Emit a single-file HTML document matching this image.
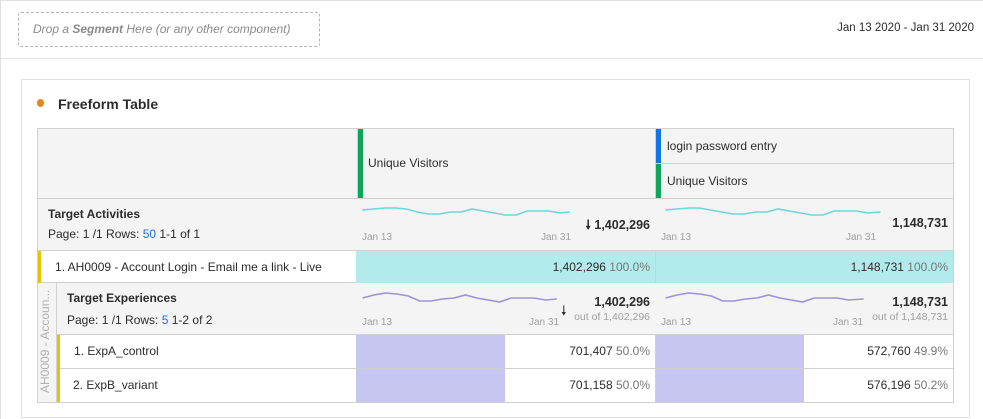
<!DOCTYPE html>
<html><head><meta charset="utf-8"><style>
*{margin:0;padding:0;box-sizing:border-box}
body{width:983px;height:419px;background:#fff;font-family:"Liberation Sans",sans-serif;color:#2c2c2c;position:relative;overflow:hidden}
.a{position:absolute}
.t{font-size:12px;white-space:nowrap}
.r{text-align:right;width:200px}
.g{color:#a0a0a0;font-size:10px}
.b{font-weight:bold}
polyline{vector-effect:non-scaling-stroke}
</style></head><body>
<div class="a" style="left:0;top:0;width:983px;height:1px;background:#e1e1e1"></div>
<div class="a" style="left:0;top:0;width:1px;height:419px;background:#e1e1e1"></div>
<div class="a" style="left:18px;top:12px;width:302px;height:35px;border:1px dashed #b3b3b3;border-radius:3px"></div>
<div class="a t" style="left:33px;top:22px;color:#8a8a8a;font-style:italic;font-size:12px">Drop a <b>Segment</b> Here (or any other component)</div>
<div class="a t r" style="left:774px;top:22px;font-size:11.5px">Jan 13 2020 - Jan 31 2020</div>
<div class="a" style="left:0;top:58px;width:983px;height:1px;background:#e1e1e1"></div>
<div class="a" style="left:21px;top:79px;width:949px;height:339px;border:1px solid #e1e1e1"></div>
<div class="a" style="left:37px;top:99px;width:7px;height:8px;border-radius:50%;background:#e68619"></div>
<div class="a t b" style="left:58px;top:96px;font-size:14px">Freeform Table</div>

<div class="a" style="left:37px;top:128px;width:917px;height:275px;border:1px solid #d0d0d0;background:#f4f4f4"></div>
<div class="a" style="left:37px;top:198px;width:917px;height:1px;background:#d0d0d0"></div>
<div class="a" style="left:655px;top:163px;width:299px;height:1px;background:#d0d0d0"></div>
<div class="a" style="left:357px;top:128px;width:1px;height:70px;background:#d0d0d0"></div>
<div class="a" style="left:655px;top:128px;width:1px;height:70px;background:#d0d0d0"></div>
<div class="a" style="left:358px;top:129px;width:5px;height:69px;background:#12a35b"></div>
<div class="a" style="left:656px;top:129px;width:5px;height:34px;background:#1473e6"></div>
<div class="a" style="left:656px;top:164px;width:5px;height:34px;background:#12a35b"></div>
<div class="a t" style="left:368px;top:156px">Unique Visitors</div>
<div class="a t" style="left:667px;top:139px">login password entry</div>
<div class="a t" style="left:667px;top:174px">Unique Visitors</div>

<div class="a t b" style="left:48px;top:207px">Target Activities</div>
<div class="a t" style="left:48px;top:227px">Page: 1 /1 Rows: <span style="color:#1473e6">50</span> 1-1 of 1</div>
<svg class="a" style="left:360px;top:205px" width="600" height="140">
<g fill="none" stroke="#6fd6d8" stroke-width="1.6">
<polyline transform="scale(1.22,1)" points="2,5 11,4 20,3 29,3 38,4 47,7 56,9 65,9 74,7 83,7 92,4 101,6 110,8 119,10 128,10 137,6 146,6 155,6 164,8 172,7"/>
<polyline transform="translate(303,0) scale(1.25,1)" points="2,5 11,4 20,3 29,3 38,5 47,7 56,9 65,9 74,7 83,7 92,4 101,6 110,8 119,10 128,10 137,6 146,6 155,6 164,8 174,7"/>
</g>
<g fill="none" stroke="#9b93d9" stroke-width="1.6">
<polyline transform="scale(1.27,1)" points="2,93 11,90 20,88 29,89 38,91 47,96 56,96 65,94 74,93 83,90 92,93 101,95 110,97 119,93 128,93 137,93 146,95 155,94"/>
<polyline transform="translate(303,0) scale(1.27,1)" points="2,93 11,90 20,88 29,89 38,91 47,96 56,96 65,94 74,93 83,90 92,93 101,95 110,97 119,93 128,93 137,93 146,95 158,94"/>
</g>
</svg>
<div class="a g" style="left:362px;top:232px">Jan 13</div>
<div class="a g" style="left:541px;top:232px">Jan 31</div>
<div class="a g" style="left:661px;top:232px">Jan 13</div>
<div class="a g" style="left:846px;top:232px">Jan 31</div>
<div class="a t b r" style="left:450px;top:216px;font-size:12.5px">🠗 1,402,296</div>
<div class="a t b r" style="left:748px;top:216px;font-size:12.5px">1,148,731</div>

<div class="a" style="left:38px;top:250px;width:915px;height:33px;background:#fff;border-top:1px solid #d0d0d0;border-bottom:1px solid #d0d0d0"></div>
<div class="a" style="left:38px;top:251px;width:3px;height:32px;background:#e5c400"></div>
<div class="a" style="left:356px;top:251px;width:597px;height:32px;background:#b2ebec"></div>
<div class="a" style="left:655px;top:251px;width:1px;height:32px;background:#d0d0d0"></div>
<div class="a t" style="left:55px;top:260px">1. AH0009 - Account Login - Email me a link - Live</div>
<div class="a t r" style="left:450px;top:260px">1,402,296 <span style="color:#777">100.0%</span></div>
<div class="a t r" style="left:748px;top:260px">1,148,731 <span style="color:#777">100.0%</span></div>

<div class="a" style="left:56px;top:283px;width:1px;height:119px;background:#d0d0d0"></div>
<div class="a" style="transform:rotate(-90deg);transform-origin:center;color:#b0b0b0;font-size:12px;white-space:nowrap;text-align:center;left:-5px;top:336px;width:100px">AH0009 - Accoun...</div>
<div class="a t b" style="left:67px;top:291px">Target Experiences</div>
<div class="a t" style="left:67px;top:313px">Page: 1 /1 Rows: <span style="color:#1473e6">5</span> 1-2 of 2</div>
<div class="a g" style="left:362px;top:317px">Jan 13</div>
<div class="a g" style="left:529px;top:317px">Jan 31</div>
<div class="a g" style="left:661px;top:317px">Jan 13</div>
<div class="a g" style="left:833px;top:317px">Jan 31</div>
<div class="a t b r" style="left:450px;top:295px;font-size:12.5px">1,402,296</div>
<div class="a t b r" style="left:748px;top:295px;font-size:12.5px">1,148,731</div>
<div class="a" style="left:561px;top:302px;font-size:13px">🠗</div>
<div class="a g r" style="left:450px;top:311px;font-size:10.5px">out of 1,402,296</div>
<div class="a g r" style="left:748px;top:311px;font-size:10.5px">out of 1,148,731</div>

<div class="a" style="left:57px;top:334px;width:896px;height:68px;background:#fff;border-top:1px solid #d0d0d0"></div>
<div class="a" style="left:57px;top:368px;width:896px;height:1px;background:#d0d0d0"></div>
<div class="a" style="left:57px;top:335px;width:3px;height:67px;background:#e5c400"></div>
<div class="a" style="left:356px;top:335px;width:149px;height:67px;background:#c6c6f0"></div>
<div class="a" style="left:655px;top:335px;width:149px;height:67px;background:#c6c6f0"></div>
<div class="a" style="left:356px;top:368px;width:149px;height:1px;background:#d0d0d0"></div>
<div class="a" style="left:655px;top:368px;width:149px;height:1px;background:#d0d0d0"></div>
<div class="a" style="left:655px;top:335px;width:1px;height:67px;background:#d0d0d0"></div>
<div class="a t" style="left:74px;top:344px">1. ExpA_control</div>
<div class="a t" style="left:73px;top:378px">2. ExpB_variant</div>
<div class="a t r" style="left:450px;top:344px">701,407 <span style="color:#777">50.0%</span></div>
<div class="a t r" style="left:450px;top:378px">701,158 <span style="color:#777">50.0%</span></div>
<div class="a t r" style="left:748px;top:344px">572,760 <span style="color:#777">49.9%</span></div>
<div class="a t r" style="left:748px;top:378px">576,196 <span style="color:#777">50.2%</span></div>
</body></html>
